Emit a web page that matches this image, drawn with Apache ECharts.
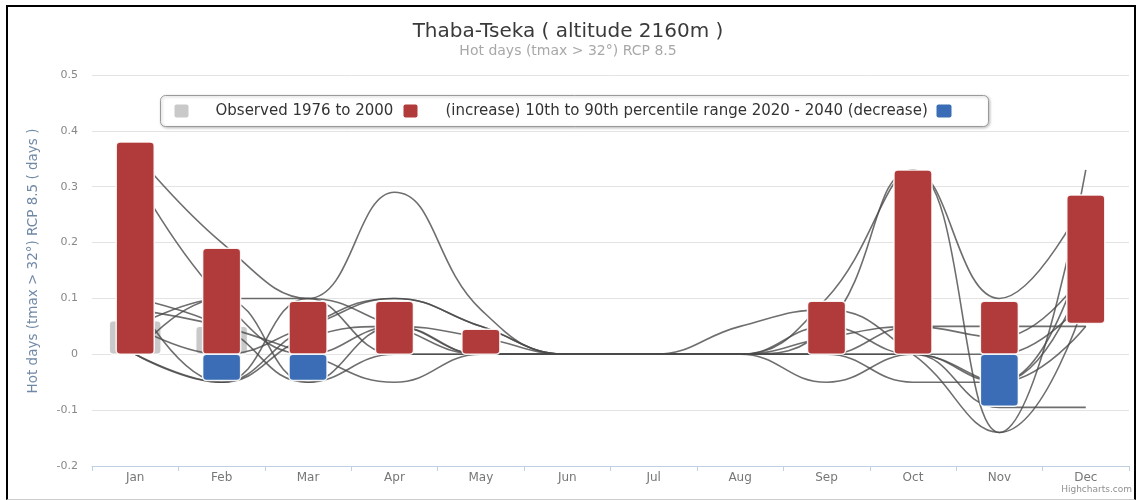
<!DOCTYPE html>
<html>
<head>
<meta charset="utf-8">
<script src="https://cdn.jsdelivr.net/npm/echarts@6/dist/echarts.min.js"></script>
<style>
  html, body { margin: 0; padding: 0; background: #fff; }
  #frame { position: absolute; left: 6px; top: 5px; width: 1126px; height: 492px;
           border-left: 2px solid #000; border-top: 2px solid #000; border-right: 2px solid #000;
           border-bottom: 1px solid #ccc; }
  #chart { position: absolute; left: 0; top: 0; width: 1136px; height: 500px; }
</style>
</head>
<body>
<div id="frame"></div>
<div id="chart"></div>
<script>
// Months on the category axis
const months = ['Jan', 'Feb', 'Mar', 'Apr', 'May', 'Jun', 'Jul', 'Aug', 'Sep', 'Oct', 'Nov', 'Dec'];

// Observed hot days, 1976 to 2000
const observed = [0.06, 0.05, 0, 0, 0, 0, 0, 0, 0, 0, 0, 0];

// Projected increase range (10th to 90th percentile), 2020 - 2040
const increaseLow  = [0, 0, 0, 0, 0, null, null, null, 0, 0, 0, 0.055];
const increaseHigh = [0.38, 0.19, 0.095, 0.095, 0.045, null, null, null, 0.095, 0.33, 0.095, 0.285];

// Projected decrease range
const decreaseLow  = [null, -0.047, -0.047, null, null, null, null, null, null, null, -0.093, null];
const decreaseHigh = [null, 0, 0, null, null, null, null, null, null, null, 0, null];

// Individual model runs
const model1  = [0.36, 0.2, 0.1, 0.29, 0.08, 0, 0, 0, 0, 0, -0.05, 0.05];
const model2  = [0.32, 0.1, 0, 0.05, 0.03, 0, 0, 0, 0.05, 0.33, 0.1, 0.28];
const model3  = [0.1, -0.05, 0.05, 0.1, 0.05, 0, 0, 0, 0.1, 0.33, -0.14, 0.33];
const model4  = [0.05, 0.1, -0.05, 0.05, 0, 0, 0, 0.05, 0.08, 0, -0.14, 0.1];
const model5  = [0, -0.05, 0.1, 0, 0, 0, 0, 0, -0.05, 0, -0.05, 0.2];
const model6  = [0.08, 0.05, 0, -0.05, 0, 0, 0, 0, 0.03, 0.05, 0.05, 0.05];
const model7  = [0, 0.1, 0.1, 0.05, 0, 0, 0, 0, 0, -0.05, -0.05, 0.15];
const model8  = [0.05, 0, 0.05, 0.1, 0.05, 0, 0, 0, 0.05, 0, 0, 0.1];
const model9  = [0.1, 0.05, -0.05, 0, 0, 0, 0, 0, 0, 0.05, 0.03, 0.15];
const model10 = [0, -0.05, 0.03, 0.05, 0, 0, 0, 0, 0, 0, -0.095, -0.095];
const models = [model1, model2, model3, model4, model5, model6, model7, model8, model9, model10];

const FONT = '"DejaVu Sans", sans-serif';
const RED = '#b13a3a', BLUE = '#3a6db5', GREY = '#c9c9c9';

// Rounded range column drawn through the axis scales
function rangeColumn(color, widthRatio) {
  return function (params, api) {
    const lo = api.value(1), hi = api.value(2);
    if (lo == null || hi == null || isNaN(lo) || isNaN(hi) || lo === hi) return null;
    const cat = api.value(0);
    const a = api.coord([cat, hi]);
    const b = api.coord([cat, lo]);
    const w = api.size([1, 0])[0] * widthRatio;
    const top = Math.min(a[1], b[1]);
    const h = Math.abs(b[1] - a[1]);
    return {
      type: 'rect',
      shape: { x: a[0] - w / 2, y: top, width: w, height: h, r: 4 },
      style: { fill: color, stroke: 'rgba(255,255,255,0.9)', lineWidth: 1.5 }
    };
  };
}

function rangeData(lo, hi) {
  return months.map((m, i) => [i, lo[i], hi[i]]);
}

const series = [];
series.push({
  type: 'custom', name: 'Observed 1976 to 2000', z: 1, silent: true,
  renderItem: rangeColumn(GREY, 0.6),
  data: rangeData(observed.map(() => 0), observed)
});
models.forEach((m, k) => {
  series.push({
    type: 'line', name: 'model' + (k + 1), z: 2, silent: true,
    data: m, smooth: 0.45, symbol: 'none',
    lineStyle: { color: '#4a4a4a', width: 1.6, opacity: 0.8 }
  });
});
series.push({
  type: 'custom', name: 'increase', z: 3, silent: true,
  renderItem: rangeColumn(RED, 0.44),
  data: rangeData(increaseLow, increaseHigh)
});
series.push({
  type: 'custom', name: 'decrease', z: 3, silent: true,
  renderItem: rangeColumn(BLUE, 0.44),
  data: rangeData(decreaseLow, decreaseHigh)
});

const chart = echarts.init(document.getElementById('chart'), null, { renderer: 'canvas' });
chart.setOption({
  animation: false,
  backgroundColor: 'transparent',
  title: {
    text: 'Thaba-Tseka ( altitude 2160m )',
    subtext: 'Hot days (tmax > 32°) RCP 8.5',
    left: 'center', top: 17, itemGap: 2,
    textStyle: { fontFamily: FONT, fontSize: 20, fontWeight: 'normal', color: '#3a3a3a' },
    subtextStyle: { fontFamily: FONT, fontSize: 14, color: '#a8a8a8' }
  },
  grid: { left: 92, right: 7, top: 75, bottom: 34 },
  xAxis: {
    type: 'category', data: months, boundaryGap: true,
    axisLine: { onZero: false, lineStyle: { color: '#c0d0e0' } },
    axisTick: { show: true, length: 5, lineStyle: { color: '#c0d0e0' } },
    axisLabel: { fontFamily: FONT, fontSize: 12, color: '#777', margin: 6 },
    splitLine: { show: false }
  },
  yAxis: {
    type: 'value', min: -0.2, max: 0.5, interval: 0.1,
    axisLine: { show: false }, axisTick: { show: false },
    axisLabel: { fontFamily: FONT, fontSize: 11, color: '#888', margin: 14 },
    splitLine: { lineStyle: { color: '#e3e3e3', width: 1 } }
  },
  graphic: [
    // y-axis title, rotated
    { type: 'text', x: 33, y: 261, rotation: Math.PI / 2,
      style: { text: 'Hot days (tmax > 32°) RCP 8.5 ( days )', font: '13.5px ' + FONT,
               fill: '#7089a6', align: 'center', verticalAlign: 'middle' } },
    {
      type: 'group', left: 160, top: 95,
      children: [
        { type: 'rect', shape: { x: 0, y: 0, width: 828, height: 31, r: 5 },
          style: { fill: '#fff', stroke: '#9a9a9a', lineWidth: 1,
                   shadowBlur: 3, shadowColor: 'rgba(0,0,0,0.25)', shadowOffsetX: 1, shadowOffsetY: 1 } },
        { type: 'rect', shape: { x: 14, y: 9, width: 14, height: 13, r: 2 }, style: { fill: GREY } },
        { type: 'text', x: 55, y: 15.5, style: { text: 'Observed 1976 to 2000', font: '15px ' + FONT, fill: '#333', verticalAlign: 'middle' } },
        { type: 'rect', shape: { x: 243, y: 9, width: 14, height: 13, r: 2 }, style: { fill: RED } },
        { type: 'text', x: 285, y: 15.5, style: { text: '(increase) 10th to 90th percentile range 2020 - 2040 (decrease)', font: '15px ' + FONT, fill: '#333', verticalAlign: 'middle' } },
        { type: 'rect', shape: { x: 776, y: 9, width: 15, height: 13, r: 2 }, style: { fill: BLUE } }
      ]
    },
    { type: 'text', right: 4, top: 485, style: { text: 'Highcharts.com', font: '9px ' + FONT, fill: '#909090' } }
  ],
  series: series
});
</script>
</body>
</html>
